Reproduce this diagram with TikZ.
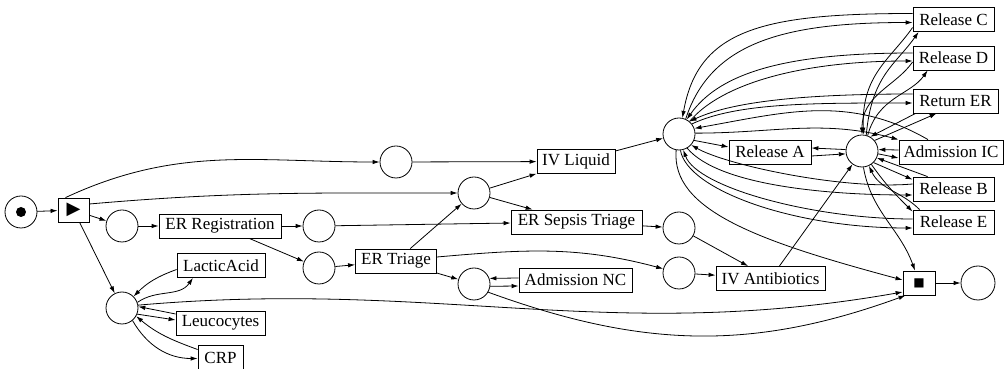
\documentclass[tikz,border=0pt]{standalone}
\usepackage{fontspec}
\setmainfont{Liberation Serif}
\newfontfamily\symfont{DejaVu Sans}
\usetikzlibrary{arrows.meta}

\begin{document}
\begin{tikzpicture}[x=1pt, y=1pt, line width=0.8pt, >={Latex[length=7pt,width=4.5pt]},
	c/.style={circle, draw, inner sep=0pt, minimum size=32pt},
	t/.style={rectangle, draw, inner sep=0pt, minimum height=24pt, font=\fontsize{17}{18}\selectfont},
	every edge/.style={draw, ->}]
		\useasboundingbox (0,0) rectangle (1006,369);

		% places
		\node[c] (p0) at (21,157) {};
		\node[circle, fill, inner sep=0pt, minimum size=10pt] (tok) at (p0) {};
		\node[c] (p1) at (122,143) {};
		\node[c] (pLab) at (122,61) {};
		\node[c] (pRegOut) at (319,143) {};
		\node[c] (pTriIn) at (319,101) {};
		\node[c] (pTop) at (396,207) {};
		\node[c] (pMid) at (474,176) {};
		\node[c] (pNc) at (474,85) {};
		\node[c] (pSep) at (679,141) {};
		\node[c] (pAnt) at (679,96) {};
		\node[c] (pHub) at (679,235) {};
		\node[c] (pHub2) at (862,218) {};
		\node[c, minimum size=34pt] (pEnd) at (978,86) {};

		% transitions
		\node[t, minimum width=31pt] (start) at (73.5,159) {\symfont\fontsize{18}{18}\selectfont ▶};
		\node[t, minimum width=32pt] (fin) at (919,86) {\symfont\fontsize{12}{12}\selectfont ■};
		\node[t, minimum width=122pt] (reg) at (220,143) {ER Registration};
		\node[t, minimum width=88pt] (lactic) at (221,103.5) {LacticAcid};
		\node[t, minimum width=89pt] (leuco) at (220.5,46) {Leucocytes};
		\node[t, minimum width=45pt] (crp) at (220.5,11.5) {CRP};
		\node[t, minimum width=81pt] (triage) at (396,108) {ER Triage};
		\node[t, minimum width=78pt] (ivl) at (576,207.5) {IV Liquid};
		\node[t, minimum width=131pt] (sepsis) at (576.5,147) {ER Sepsis Triage};
		\node[t, minimum width=113pt] (admnc) at (575.5,89) {Admission NC};
		\node[t, minimum width=109pt] (ivab) at (770.5,90.5) {IV Antibiotics};
		\node[t, minimum width=82pt] (relA) at (770,217) {Release A};
		\node[t, minimum width=81pt] (relC) at (953.5,349.5) {Release C};
		\node[t, minimum width=81pt] (relD) at (953.5,311) {Release D};
		\node[t, minimum width=85pt] (retER) at (955.5,268) {Return ER};
		\node[t, minimum width=104pt] (admIC) at (951,217) {Admission IC};
		\node[t, minimum width=81pt] (relB) at (953.5,180) {Release B};
		\node[t, minimum width=81pt] (relE) at (953.5,147) {Release E};

		% left part
		\path (p0) edge (start);
		\path (start) edge (p1);
		\path ([xshift=-8pt]start.north) edge[out=25,in=180] (pTop);
		\path ([yshift=6pt]start.east) edge[out=5,in=180] (pMid);
		\path (start) edge (pLab);
		\path (p1) edge (reg);
		\path (reg) edge (pRegOut);
		\path (reg) edge (pTriIn);
		\path (pRegOut) edge (sepsis);
		\path (pTriIn) edge (triage);
		\path (triage) edge (pMid);
		\path (triage) edge (pNc);
		\path ([yshift=4pt]triage.east) edge[out=5,in=165] (pAnt);
		\path (pTop) edge (ivl);
		\path (pMid) edge (ivl);
		\path (pMid) edge (sepsis);
		\path (sepsis) edge (pSep);
		\path (pSep) edge (ivab);
		\path (pAnt) edge (ivab);
		\path ([yshift=2pt]admnc.west) edge (pNc.20);
		\path (pNc.-8) edge ([yshift=-6pt]admnc.west);

		% lab tests
		\path ([yshift=-4pt]lactic.west) edge[out=200,in=45] (pLab.45);
		\path (pLab.20) edge[out=35,in=235] ([xshift=-28pt]lactic.south);
		\path ([yshift=9pt]leuco.west) edge (pLab.5);
		\path (pLab.-22) edge ([yshift=3pt]leuco.west);
		\path ([yshift=8pt]crp.west) edge[out=160,in=-40] (pLab.-30);
		\path (pLab.-50) edge[out=-60,in=180] ([yshift=-1pt]crp.west);

		% to the end
		\path (pLab.10) edge[out=5,in=190] ([yshift=-9pt]fin.west);
		\path (pNc.-30) edge[out=-20,in=200] ([xshift=3pt]fin.south west);
		\path (fin) edge (pEnd);

		% right part
		\path (ivl) edge (pHub);
		\path (ivab) edge (pHub2);
		\path (pHub.-23) edge ([yshift=5pt]relA.west);
		\path (pHub2.175) edge ([yshift=4pt]relA.east);
		\path ([yshift=-4pt]relA.east) edge (pHub2.190);

		\path ([yshift=6pt]relC.west) edge[out=180,in=80,out distance=150pt,in distance=90pt] (pHub.78);
		\path (pHub.66) edge[out=72,in=180,out distance=80pt,in distance=130pt] ([yshift=-3pt]relC.west);
		\path ([yshift=5pt]relD.west) edge[out=180,in=55,out distance=120pt,in distance=60pt] (pHub.62);
		\path (pHub.50) edge[out=50,in=180,out distance=50pt,in distance=110pt] ([yshift=-3pt]relD.west);
		\path ([yshift=7pt]retER.west) edge[out=180,in=25,out distance=100pt,in distance=50pt] (pHub.50);
		\path (pHub.38) edge[out=25,in=180,out distance=50pt,in distance=100pt] ([yshift=-2pt]retER.west);
		\path ([xshift=-23pt]admIC.north) edge[out=150,in=10] (pHub.20);
		\path (pHub.3) edge[out=0,in=165] (admIC.north west);
		\path ([yshift=5pt]relB.west) edge[out=185,in=-30,out distance=70pt,in distance=40pt] (pHub.-42);
		\path (pHub.-60) edge[out=-50,in=180,out distance=50pt,in distance=80pt] ([yshift=-6pt]relB.west);
		\path ([yshift=3pt]relE.west) edge[out=180,in=-70,out distance=100pt,in distance=40pt] (pHub.-75);
		\path (pHub.-85) edge[out=-80,in=180,out distance=40pt,in distance=120pt] ([yshift=-6pt]relE.west);
		\path (pHub.-100) edge[out=-95,in=165,out distance=60pt,in distance=150pt] ([yshift=3pt]fin.west);

		\path ([yshift=-8pt]relC.west) edge[out=235,in=92,out distance=40pt,in distance=60pt] (pHub2.85);
		\path (pHub2.75) edge[out=85,in=235,out distance=60pt,in distance=40pt] ([xshift=6pt]relC.south west);
		\path ([yshift=-4pt]relD.west) edge[out=235,in=90,out distance=30pt,in distance=40pt] (pHub2.90);
		\path (pHub2.70) edge[out=75,in=235,out distance=40pt,in distance=30pt] ([xshift=15pt]relD.south west);
		\path ([xshift=3pt]retER.south west) edge (pHub2.60);
		\path (pHub2.40) edge ([xshift=24pt]retER.south west);
		\path ([yshift=2pt]admIC.west) edge (pHub2.5);
		\path (pHub2.-10) edge ([yshift=-6pt]admIC.west);
		\path ([xshift=15pt]relB.north west) edge (pHub2.-25);
		\path (pHub2.-45) edge ([yshift=-3pt]relB.north west);
		\path ([xshift=7pt]relE.north west) edge[out=135,in=-65] (pHub2.-65);
		\path (pHub2.-55) edge[out=-55,in=135] ([yshift=-2pt]relE.north west);
		\path (pHub2.-85) edge[out=-80,in=110] ([xshift=-4pt]fin.north);
	\end{tikzpicture}
\end{document}
